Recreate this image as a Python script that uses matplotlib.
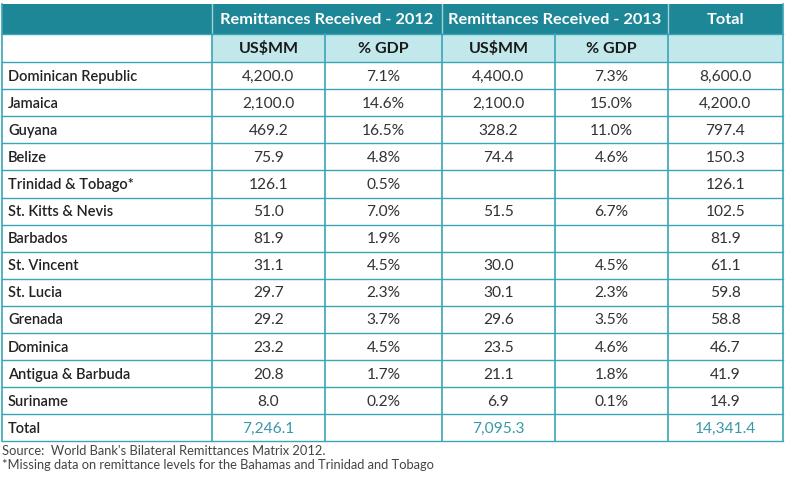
import matplotlib
matplotlib.use("Agg")
from matplotlib import pyplot as plt
from matplotlib.patches import Rectangle

countries = ["Dominican Republic", "Jamaica", "Guyana", "Belize", "Trinidad & Tobago*",
             "St. Kitts & Nevis", "Barbados", "St. Vincent", "St. Lucia", "Grenada",
             "Dominica", "Antigua & Barbuda", "Suriname"]
usd_2012 = ["4,200.0", "2,100.0", "469.2", "75.9", "126.1", "51.0", "81.9", "31.1",
            "29.7", "29.2", "23.2", "20.8", "8.0"]
gdp_2012 = ["7.1%", "14.6%", "16.5%", "4.8%", "0.5%", "7.0%", "1.9%", "4.5%",
            "2.3%", "3.7%", "4.5%", "1.7%", "0.2%"]
usd_2013 = ["4,400.0", "2,100.0", "328.2", "74.4", "", "51.5", "", "30.0",
            "30.1", "29.6", "23.5", "21.1", "6.9"]
gdp_2013 = ["7.3%", "15.0%", "11.0%", "4.6%", "", "6.7%", "", "4.5%",
            "2.3%", "3.5%", "4.6%", "1.8%", "0.1%"]
totals = ["8,600.0", "4,200.0", "797.4", "150.3", "126.1", "102.5", "81.9", "61.1",
          "59.8", "58.8", "46.7", "41.9", "14.9"]
sum_row = ["Total", "7,246.1", "", "7,095.3", "", "14,341.4"]

dark = "#1e8797"
light = "#c3e8ec"
line = "#3aa5b4"
font = "Lato"

fig = plt.figure(figsize=(7.89, 4.78), dpi=100)
ax = fig.add_axes([0, 0, 1, 1])
ax.set_xlim(0, 789)
ax.set_ylim(478, 0)
ax.axis("off")

xs = [2, 212, 325, 442, 555, 668, 783]
y0, y1, y2 = 4, 34, 62
rh = 27.1
n = len(countries) + 1
ybot = y2 + n * rh

# header rows
ax.add_patch(Rectangle((xs[0], y0), xs[-1] - xs[0], y1 - y0, color=dark, lw=0))
ax.add_patch(Rectangle((xs[1], y1), xs[-1] - xs[1], y2 - y1, color=light, lw=0))
for x in [xs[1], xs[3], xs[5]]:
    ax.plot([x, x], [y0, y1], color="#9fd3da", lw=1)
heads = [("Remittances Received - 2012", (xs[1] + xs[3]) / 2),
         ("Remittances Received - 2013", (xs[3] + xs[5]) / 2),
         ("Total", (xs[5] + xs[6]) / 2)]
for t, cx in heads:
    ax.text(cx, (y0 + y1) / 2 + 0.5, t, color="white", fontsize=11.8, fontweight="bold",
            ha="center", va="center", family=font)
subs = ["US$MM", "% GDP", "US$MM", "% GDP"]
for i, t in enumerate(subs):
    ax.text((xs[i + 1] + xs[i + 2]) / 2, (y1 + y2) / 2 + 0.5, t, color="#1a1a1a",
            fontsize=11.5, fontweight="bold", ha="center", va="center", family=font)

# grid
ax.plot([xs[0], xs[-1]], [y1, y1], color=line, lw=1)
for k in range(n + 1):
    y = y2 + k * rh
    ax.plot([xs[0], xs[-1]], [y, y], color=line, lw=1)
for i, x in enumerate(xs):
    top = y0 if i in (0, 6) else y1
    ax.plot([x, x], [top, ybot], color=line, lw=1.2)

# body
rows = list(zip(countries, usd_2012, gdp_2012, usd_2013, gdp_2013, totals))
rows.append(tuple(sum_row))
for r, row in enumerate(rows):
    cy = y2 + (r + 0.5) * rh + 1
    ax.text(xs[0] + 6, cy, row[0], fontsize=10.5, fontweight="semibold", color="#222222",
            ha="left", va="center", family=font)
    for c in range(1, 6):
        col = "#3a98a8" if r == n - 1 else "#333333"
        ax.text((xs[c] + xs[c + 1]) / 2, cy, row[c], fontsize=11.2, color=col,
                ha="center", va="center", family=font)

ax.text(2, 451, "Source:  World Bank's Bilateral Remittances Matrix 2012.", fontsize=9.3,
        color="#444444", ha="left", va="center", family=font)
ax.text(2, 465, "*Missing data on remittance levels for the Bahamas and Trinidad and Tobago",
        fontsize=9.3, color="#444444", ha="left", va="center", family=font)

fig.savefig("out.png", dpi=100)
